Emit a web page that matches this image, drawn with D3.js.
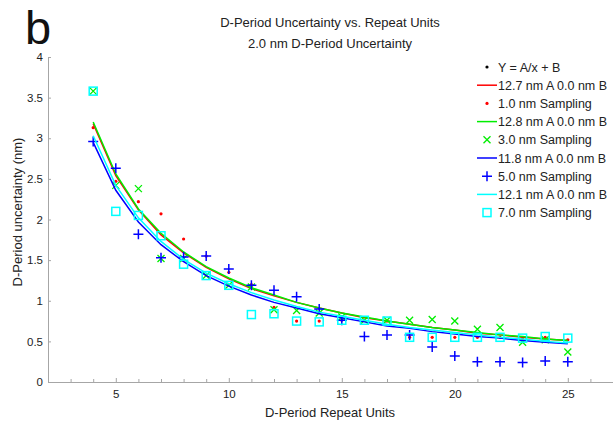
<!DOCTYPE html>
<html>
<head>
<meta charset="utf-8">
<script src="https://cdn.jsdelivr.net/npm/d3@7"></script>
<style>
  body { margin: 0; background: #fff; }
  svg { font-family: "Liberation Sans", Arial, sans-serif; }
  .axis path, .axis line { stroke: #a6a6a6; }
  .axis text { fill: #222; font-size: 11.5px; }
</style>
</head>
<body>
<div id="vis"></div>
<script>
/* D-Period uncertainty vs repeat units, four sampling sets with A/x fits */

// Repeat units (x values)
var repeatUnits = [4, 5, 6, 7, 8, 9, 10, 11, 12, 13, 14, 15, 16, 17, 18, 19, 20, 21, 22, 23, 24, 25];

// Fitted curves (values at each repeat unit)
var fitRed   = [3.18, 2.54, 2.12, 1.81, 1.59, 1.41, 1.27, 1.15, 1.06, 0.98, 0.91, 0.85, 0.79, 0.75, 0.71, 0.67, 0.64, 0.60, 0.58, 0.55, 0.53, 0.51];
var fitGreen = [3.20, 2.56, 2.13, 1.83, 1.60, 1.42, 1.28, 1.16, 1.07, 0.98, 0.91, 0.85, 0.80, 0.75, 0.71, 0.67, 0.64, 0.61, 0.58, 0.56, 0.53, 0.51];
var fitBlue  = [2.95, 2.36, 1.97, 1.69, 1.48, 1.31, 1.18, 1.07, 0.98, 0.91, 0.84, 0.79, 0.74, 0.69, 0.66, 0.62, 0.59, 0.56, 0.54, 0.51, 0.49, 0.47];
var fitCyan  = [3.03, 2.42, 2.02, 1.73, 1.51, 1.34, 1.21, 1.10, 1.01, 0.93, 0.86, 0.81, 0.76, 0.71, 0.67, 0.64, 0.61, 0.58, 0.55, 0.53, 0.50, 0.48];

// Sampled points
var samp1 = [3.13, 2.47, 2.22, 2.07, 1.76, 1.55, 1.35, 1.20, 0.92, 0.75, 0.75, 0.76, 0.76, 0.75, 0.55, 0.55, 0.55, 0.55, 0.55, 0.53, 0.55, 0.52];
var samp3 = [3.58, 2.42, 2.38, 1.52, 1.52, 1.31, 1.19, 1.17, 0.89, 0.88, 0.85, 0.80, 0.76, 0.76, 0.76, 0.77, 0.75, 0.65, 0.67, 0.49, 0.52, 0.37];
var samp5 = [2.96, 2.63, 1.82, 1.53, 1.54, 1.55, 1.39, 1.19, 1.13, 1.05, 0.90, 0.76, 0.56, 0.58, 0.58, 0.43, 0.32, 0.25, 0.25, 0.24, 0.26, 0.25];
var samp7 = [3.58, 2.10, 2.05, 1.80, 1.45, 1.31, 1.19, 0.83, 0.84, 0.75, 0.74, 0.76, 0.76, 0.75, 0.55, 0.55, 0.55, 0.55, 0.55, 0.54, 0.56, 0.54];

// Legend labels
var legendLabels = ["Y = A/x + B", "12.7 nm A 0.0 nm B", "1.0 nm Sampling", "12.8 nm A 0.0 nm B", "3.0 nm Sampling",
                    "11.8 nm A 0.0 nm B", "5.0 nm Sampling", "12.1 nm A 0.0 nm B", "7.0 nm Sampling"];

var xTicks = [5, 10, 15, 20, 25];
var yTicks = [0, 0.5, 1, 1.5, 2, 2.5, 3, 3.5, 4];

var width = 613, height = 429;
var margin = { left: 48, top: 57, bottom: 47 };
var plotBottom = height - margin.bottom;

var svg = d3.select("#vis").append("svg").attr("width", width).attr("height", height);

var xScale = d3.scaleLinear().domain([2, 28]).range([margin.left, margin.left + 26 * 22.6]);
var yScale = d3.scaleLinear().domain([0, 4]).range([plotBottom, margin.top]);

// Axes - ticks point inward, minor ticks every unit
var xMinor = d3.range(3, 28);
svg.append("g").attr("class", "axis")
    .attr("transform", "translate(0," + plotBottom + ")")
    .call(d3.axisBottom(xScale).tickValues(xMinor).tickSize(-3).tickSizeOuter(0)
        .tickFormat(function(d) { return xTicks.indexOf(d) >= 0 ? d : ""; }))
    .call(function(g) {
        g.selectAll(".tick text").attr("y", 8);
        g.selectAll(".tick line").attr("y2", function(d) { return xTicks.indexOf(d) >= 0 ? -4 : -3; });
    });

svg.append("g").attr("class", "axis")
    .attr("transform", "translate(" + margin.left + ",0)")
    .call(d3.axisLeft(yScale).tickValues(yTicks).tickSize(-3).tickSizeOuter(0)
        .tickFormat(function(d) { return d; }))
    .call(function(g) { g.selectAll(".tick text").attr("x", -5); });

// Titles
svg.append("text").attr("x", 25).attr("y", 44).attr("font-size", 47).attr("fill", "#111").text("b");
svg.append("text").attr("x", 330).attr("y", 27).attr("text-anchor", "middle").attr("font-size", 13).attr("fill", "#222")
    .text("D-Period Uncertainty vs. Repeat Units");
svg.append("text").attr("x", 330).attr("y", 48).attr("text-anchor", "middle").attr("font-size", 13).attr("fill", "#222")
    .text("2.0 nm D-Period Uncertainty");
svg.append("text").attr("x", 330).attr("y", 417).attr("text-anchor", "middle").attr("font-size", 13).attr("fill", "#222")
    .text("D-Period Repeat Units");
svg.append("text").attr("transform", "translate(22,212) rotate(-90)").attr("text-anchor", "middle")
    .attr("font-size", 13).attr("fill", "#222").text("D-Period uncertainty (nm)");

// Marker drawing helpers
function drawMarker(sel, type, color) {
    if (type === "dot") {
        sel.append("circle").attr("r", 1.6).attr("fill", color);
    } else if (type === "x") {
        sel.append("path").attr("d", "M-3.5,-3.5L3.5,3.5M-3.5,3.5L3.5,-3.5").attr("stroke", color).attr("stroke-width", 1.3).attr("fill", "none");
    } else if (type === "plus") {
        sel.append("path").attr("d", "M-5,0L5,0M0,-5L0,5").attr("stroke", color).attr("stroke-width", 1.5).attr("fill", "none");
    } else if (type === "square") {
        sel.append("rect").attr("x", -4).attr("y", -4).attr("width", 8).attr("height", 8)
            .attr("stroke", color).attr("stroke-width", 1.5).attr("fill", "none");
    }
}

var series = [
    { fit: fitRed,   pts: samp1, color: "#ff0000", marker: "dot" },
    { fit: fitGreen, pts: samp3, color: "#00ee00", marker: "x" },
    { fit: fitBlue,  pts: samp5, color: "#0000ff", marker: "plus" },
    { fit: fitCyan,  pts: samp7, color: "#00ffff", marker: "square" }
];

var line = d3.line()
    .x(function(d) { return xScale(d[0]); })
    .y(function(d) { return yScale(d[1]); });

series.forEach(function(s) {
    svg.append("path")
        .datum(d3.zip(repeatUnits, s.fit))
        .attr("d", line)
        .attr("fill", "none")
        .attr("stroke", s.color)
        .attr("stroke-width", 1.5);

    var pts = svg.selectAll(null).data(d3.zip(repeatUnits, s.pts)).enter().append("g")
        .attr("transform", function(d) { return "translate(" + xScale(d[0]) + "," + yScale(d[1]) + ")"; });
    drawMarker(pts, s.marker, s.color);
});

// Legend
var legX = 487, legY = 67, legStep = 18.2;
legendLabels.forEach(function(label, i) {
    var g = svg.append("g").attr("transform", "translate(" + legX + "," + (legY + i * legStep) + ")");
    if (i === 0) {
        drawMarker(g, "dot", "#000");
    } else {
        var s = series[Math.floor((i - 1) / 2)];
        if (i % 2 === 1) {
            g.append("line").attr("x1", -10).attr("x2", 10).attr("stroke", s.color).attr("stroke-width", 1.5);
        } else {
            drawMarker(g, s.marker, s.color);
        }
    }
    g.append("text").attr("x", 11).attr("y", 4.5).attr("font-size", 12.5).attr("fill", "#222").text(label);
});
</script>
</body>
</html>
